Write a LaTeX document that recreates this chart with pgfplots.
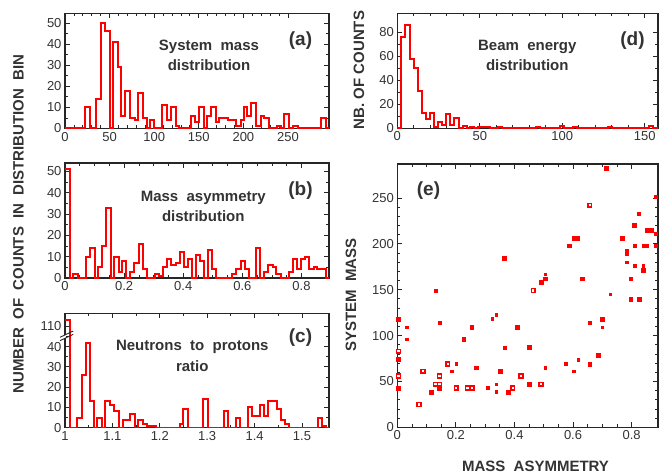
\documentclass[border=0pt]{standalone}
\usepackage{fontspec}
\setmainfont{Liberation Sans}
\usepackage{pgfplots}
\pgfplotsset{compat=1.18}
\definecolor{txt}{gray}{0.2}
\definecolor{hred}{RGB}{255,0,0}
\pgfplotsset{
  myaxis/.style={scale only axis, anchor=south west,
    axis line style={line width=1.1pt,black!85},
    tick style={line width=0.8pt,black!85},
    major tick length=5pt, minor tick length=3pt,
    tick label style={font=\fontsize{13}{13}\selectfont, text=txt},
    /pgf/number format/assume math mode=true, ymin=0},
  hist/.style={const plot mark left, draw=hred, color=hred, line width=2pt, mark=none, line join=miter},
  smallm/.style={only marks, mark=square*, red, mark size=1.35pt},
  medm/.style={only marks, mark=square*, red, mark size=1.9pt},
  openm/.style={only marks, mark=square*, red, mark size=1.9pt, mark options={fill=white, line width=1.5pt}},
}
\begin{document}
\begin{tikzpicture}[x=1pt,y=1pt]
\useasboundingbox (0,0) rectangle (659,475);
% (a)
\begin{axis}[myaxis, at={(65pt,346.5pt)}, width=264pt, height=115pt,
  xmin=0, xmax=296, ymax=54.5, xtick={0,50,...,250}, minor x tick num=4,
  ytick={0,10,...,50}, minor y tick num=1]
\addplot[hist] coordinates {(0,0) (22.1,10) (27.7,0) (35.2,14) (40.5,50) (45.4,46) (50.2,0) (54.0,41) (59.2,29) (63.3,6) (67.8,18) (72.7,5) (78.0,4) (82.1,17) (87.7,5) (91.5,0) (95.2,4) (99.7,0) (109.1,11) (113.9,4) (119.2,10) (124.1,1) (127.8,0) (140.9,6) (145.8,3) (150.3,10) (155.9,0) (159.7,6) (164.2,10) (169.0,3) (172.8,5) (182.2,4) (191.5,1) (197.2,4) (200.9,10) (204.6,6) (209.1,12) (214.0,1) (219.6,6) (223.4,5) (229.0,0) (237.6,1) (242.1,0) (245.9,7) (251.5,0) (255.2,1) (260.9,0) (287.1,5) (292.7,0) (296,0)};
\end{axis}
% (b)
\begin{axis}[myaxis, at={(65pt,197pt)}, width=264pt, height=115pt,
  xmin=0, xmax=0.893, ymax=54, xtick={0,0.2,...,0.8}, minor x tick num=3,
  ytick={0,10,...,50}, minor y tick num=1]
\addplot[hist] coordinates {(0,51) (0.018,0) (0.027,2) (0.043,0) (0.070,10) (0.086,14) (0.101,0) (0.111,5) (0.124,15) (0.138,33) (0.154,0) (0.167,10) (0.182,3) (0.194,8) (0.208,0) (0.219,3) (0.235,7) (0.250,16) (0.263,4) (0.278,0) (0.303,2) (0.319,1) (0.332,5) (0.346,9) (0.359,6) (0.374,7) (0.388,12) (0.402,5) (0.416,9) (0.429,0) (0.442,11) (0.456,8) (0.470,0) (0.484,13) (0.498,4) (0.511,0) (0.566,2) (0.580,4) (0.594,8) (0.608,4) (0.621,0) (0.645,14) (0.660,0) (0.673,3) (0.687,6) (0.702,5) (0.715,2) (0.730,0) (0.757,3) (0.771,9) (0.784,4) (0.798,9) (0.812,10) (0.826,4) (0.841,5) (0.854,4) (0.882,0) (0.893,0)};
\end{axis}
% (c)
\begin{axis}[myaxis, name=c, at={(65pt,47.3pt)}, width=264pt, height=114.4pt,
  xmin=1, xmax=1.557, ymax=56.4, xtick={1,1.1,...,1.51}, minor x tick num=1,
  ytick={0,10,20,30,40,50}, yticklabels={0,10,20,30,40,110}, minor y tick num=1,
  y filter/.expression={y>100 ? y-60 : y}]
\addplot[hist] coordinates {(1.0,113) (1.0106,0) (1.026,5) (1.035,26) (1.044,42) (1.053,13) (1.061,0) (1.068,5) (1.078,0) (1.085,13) (1.095,11) (1.104,8) (1.113,0) (1.122,4) (1.137,7) (1.147,0) (1.154,4) (1.164,2) (1.173,1) (1.180,1) (1.191,0) (1.242,2) (1.250,9) (1.260,0) (1.291,14) (1.301,0) (1.335,8) (1.343,0) (1.360,5) (1.370,0) (1.387,10) (1.395,6) (1.412,11) (1.420,6) (1.429,13) (1.447,9) (1.456,4) (1.464,2) (1.473,0) (1.533,5) (1.542,1) (1.551,0) (1.557,0)};
\end{axis}
\begin{scope}[shift={(c.south west)}]
\fill[white] (-1.2,89.4) rectangle (1.2,92.8);
\draw[black!85, line width=0.9pt] (-5,90.4) -- (8.3,96.7);
\draw[black!85, line width=0.9pt] (-5,87) -- (8.3,93.4);
\end{scope}
% (d)
\begin{axis}[myaxis, at={(397.3pt,346.7pt)}, width=260.7pt, height=115pt,
  xmin=0, xmax=158, ymax=96, xtick={0,50,100,150}, minor x tick num=4,
  ytick={0,20,...,80}, minor y tick num=1]
\addplot[hist] coordinates {(0,0) (2.4,76) (4.8,86) (7.7,58) (10.1,50) (12.5,31) (14.9,12.5) (17.4,8) (19.8,12.5) (22.2,1) (24.6,5) (27.1,3) (29.5,12) (31.9,3) (34.3,9) (37.2,0) (39.6,2) (42.0,0) (44.0,1) (46.4,0) (48.8,1) (51.2,1) (56.1,0) (60.9,1) (63.4,0) (83.8,1) (86.2,0) (98.6,2) (101.0,0) (106.3,1) (108.7,0) (127.9,1) (130.3,0) (152.7,2) (155.1,0) (158,0)};
\end{axis}
% (e)
\begin{axis}[myaxis, at={(397.3pt,47.7pt)}, width=260.7pt, height=263.3pt,
  xmin=0, xmax=0.89, ymax=287, xtick={0,0.2,...,0.8}, minor x tick num=3,
  ytick={0,50,...,250}, minor y tick num=4]
\addplot[smallm] coordinates {(0.881,251) (0.825,233) (0.881,211) (0.810,198) (0.839,198) (0.852,198) (0.881,198) (0.783,193) (0.783,189) (0.783,180) (0.810,176) (0.839,176) (0.505,167) (0.797,162) (0.130,149) (0.727,145) (0.338,123) (0.324,118) (0.144,114) (0.657,114) (0.032,109) (0.700,109) (0.032,96) (0.366,87) (0.618,74) (0.201,69) (0.574,69) (0.505,65) (0.186,61) (0.603,61) (0.338,47) (0.308,43) (0.338,38.6)};
\addplot[medm] coordinates {(0.713,282) (0.810,220) (0.852,215) (0.867,215) (0.603,206) (0.616,206) (0.768,206) (0.588,198) (0.366,184) (0.839,171) (0.505,162) (0.630,162) (0.491,158) (0.797,140) (0.825,140) (0.003,118) (0.700,118) (0.254,109) (0.408,109) (0.227,96) (0.449,87) (0.686,78.5) (0.004,74) (0.657,69) (0.269,65) (0.352,61) (0.449,47) (0.004,43) (0.144,43) (0.115,38.6) (0.379,38.6)};
\addplot[openm] coordinates {(0.657,242) (0.464,149) (0.004,83) (0.172,69) (0.088,61) (0.004,56) (0.144,56) (0.422,56) (0.130,47) (0.144,47) (0.491,47) (0.201,43) (0.240,43) (0.255,43) (0.394,43) (0.074,25)};
\end{axis}
% titles
\begin{scope}[every node/.style={text=txt, align=center}]
\node[font=\fontsize{15}{20}\selectfont\bfseries] at (209,420) {System~~mass\\distribution};
\node[font=\fontsize{15}{20}\selectfont\bfseries] at (203.3,269) {Mass~~asymmetry\\distribution};
\node[font=\fontsize{15}{21.5}\selectfont\bfseries] at (192.3,119) {Neutrons~~to~~protons\\ratio};
\node[font=\fontsize{15}{20}\selectfont\bfseries] at (527.3,420) {Beam~~energy\\distribution};
\node[font=\fontsize{19}{19}\selectfont\bfseries] at (300.5,434) {(a)};
\node[font=\fontsize{19}{19}\selectfont\bfseries] at (300.5,284) {(b)};
\node[font=\fontsize{19}{19}\selectfont\bfseries] at (300.5,137.5) {(c)};
\node[font=\fontsize{19}{19}\selectfont\bfseries] at (632.5,434) {(d)};
\node[font=\fontsize{19}{19}\selectfont\bfseries] at (428.5,284) {(e)};
\node[rotate=90, font=\fontsize{15}{15}\selectfont\bfseries] at (18.5,251) {NUMBER~~OF~~COUNTS~~IN~~DISTRIBUTION~~BIN};
\node[rotate=90, font=\fontsize{15}{15}\selectfont\bfseries] at (359,405) {NB.~OF~COUNTS};
\node[rotate=90, font=\fontsize{15}{15}\selectfont\bfseries] at (351,180) {SYSTEM~~MASS};
\node[font=\fontsize{15}{15}\selectfont\bfseries] at (535.5,8.3) {MASS~~ASYMMETRY};
\end{scope}
\end{tikzpicture}
\end{document}
